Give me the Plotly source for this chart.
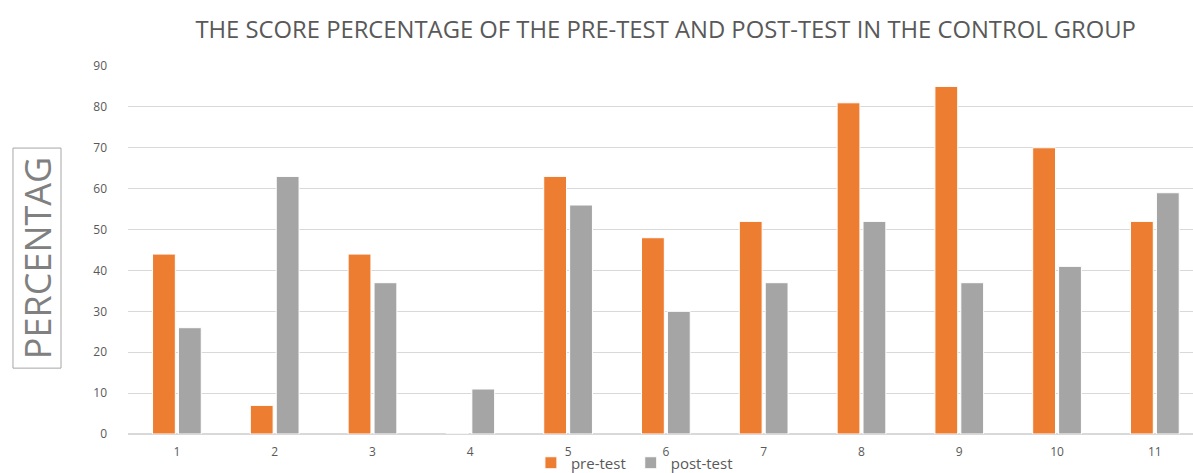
import plotly.graph_objects as go

categories = [1, 2, 3, 4, 5, 6, 7, 8, 9, 10, 11]
pre_test = [44, 7, 44, 0, 63, 48, 52, 81, 85, 70, 52]
post_test = [26, 63, 37, 11, 56, 30, 37, 52, 37, 41, 59]
y_ticks = [0, 10, 20, 30, 40, 50, 60, 70, 80, 90]

fig = go.Figure()
fig.add_trace(go.Bar(x=categories, y=pre_test, name="pre-test",
                     marker=dict(color="#ED7D31", line=dict(color="#FFFFFF", width=1))))
fig.add_trace(go.Bar(x=categories, y=post_test, name="post-test",
                     marker=dict(color="#A5A5A5", line=dict(color="#FFFFFF", width=1))))

fig.update_layout(
    width=1193, height=473,
    margin=dict(l=128, r=0, t=66, b=39, autoexpand=False),
    paper_bgcolor="white", plot_bgcolor="white",
    barmode="group", bargap=0.47, bargroupgap=0.12,
    font=dict(family="Open Sans", color="#595959"),
    title=dict(text="THE SCORE PERCENTAGE OF THE PRE-TEST AND POST-TEST IN THE CONTROL GROUP",
               x=0.558, xanchor="center", y=0.937, yanchor="middle",
               font=dict(size=23.8, color="#595959", family="Open Sans")),
    xaxis=dict(range=[0.5, 11.39], tickvals=categories, ticktext=[str(c) for c in categories],
               showgrid=False, zeroline=False, showline=False, ticks="",
               ticklabelstandoff=9, tickfont=dict(size=12, color="#595959")),
    yaxis=dict(range=[0, 90], tickvals=y_ticks, showgrid=True, gridcolor="#D9D9D9",
               gridwidth=1, zeroline=True, zerolinecolor="#D9D9D9", showline=False,
               ticks="", ticklabelstandoff=20, tickfont=dict(size=12, color="#595959")),
    legend=dict(orientation="h", x=0.4755, xanchor="center", y=-0.0788, yanchor="middle",
                font=dict(size=15, color="#595959"), traceorder="normal",
                bgcolor="rgba(0,0,0,0)", itemwidth=30, tracegroupgap=0),
    shapes=[dict(type="rect", xref="paper", yref="paper",
                 x0=-0.108, x1=-0.0629, y0=0.179, y1=0.777,
                 line=dict(color="#A6A6A6", width=1), fillcolor="rgba(0,0,0,0)")],
    annotations=[dict(text="PERCENTAG", textangle=-90, xref="paper", yref="paper",
                      x=-0.0854, y=0.478, xanchor="center", yanchor="middle", showarrow=False,
                      font=dict(size=36, color="#808080", family="Open Sans"))]
)
fig.write_html("out.html", config={"displayModeBar": False},
               post_script="document.body.style.margin='0';document.body.style.overflow='hidden';")
